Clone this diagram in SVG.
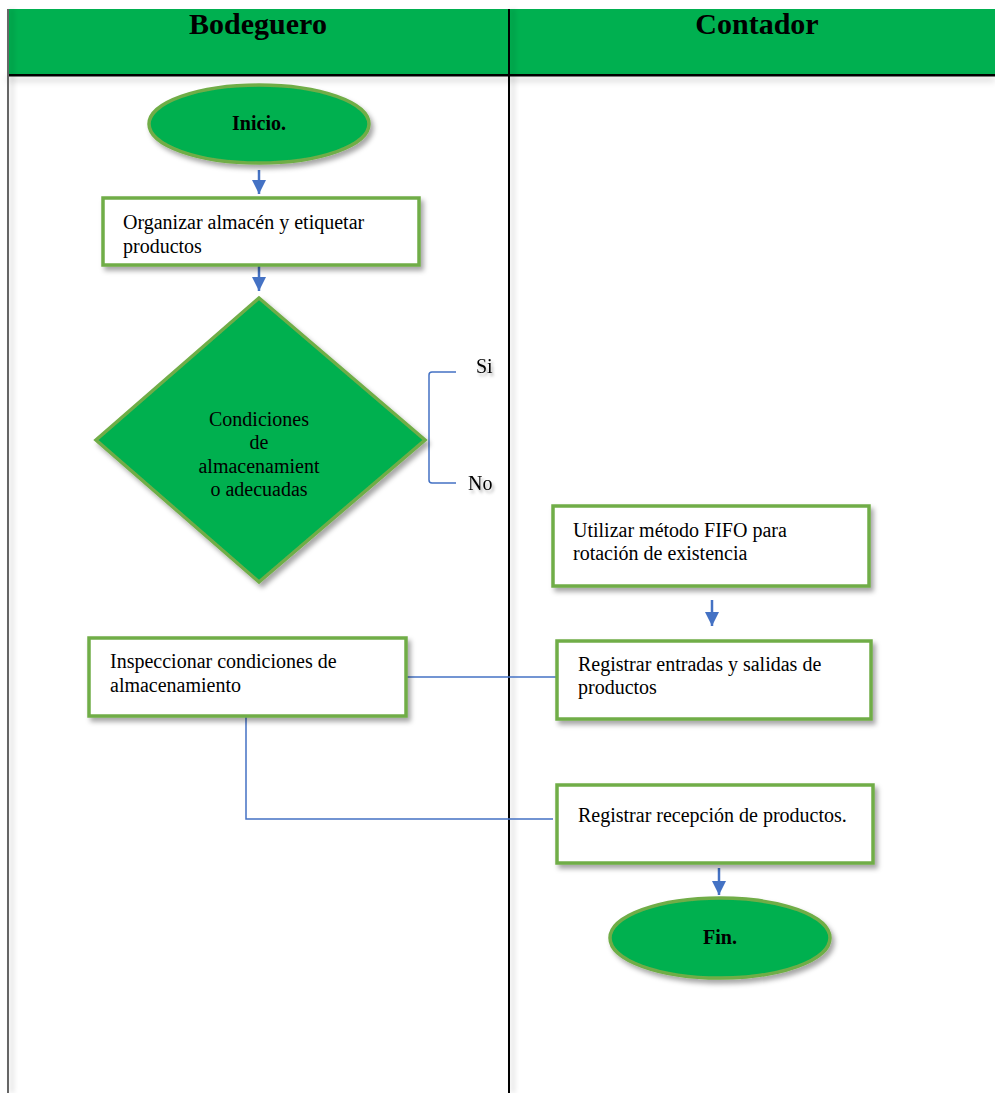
<svg xmlns="http://www.w3.org/2000/svg" width="995" height="1093" viewBox="0 0 995 1093">
  <defs>
    <filter id="shadow" x="-10%" y="-10%" width="125%" height="130%">
      <feDropShadow dx="3" dy="4" stdDeviation="2.5" flood-color="#000" flood-opacity="0.35"/>
    </filter>
    <filter id="lineShadow" filterUnits="userSpaceOnUse" x="0" y="0" width="995" height="1093">
      <feDropShadow dx="4" dy="0" stdDeviation="2.5" flood-color="#000" flood-opacity="0.2"/>
    </filter>
    <filter id="hdrShadow" filterUnits="userSpaceOnUse" x="0" y="60" width="995" height="40">
      <feDropShadow dx="0" dy="4" stdDeviation="3" flood-color="#000" flood-opacity="0.25"/>
    </filter>
    <filter id="textShadow" x="-30%" y="-30%" width="170%" height="170%">
      <feDropShadow dx="2" dy="3" stdDeviation="1.5" flood-color="#000" flood-opacity="0.3"/>
    </filter>
    <marker id="arrow" viewBox="0 0 14 14" refX="14" refY="7" markerWidth="14" markerHeight="14" markerUnits="userSpaceOnUse" orient="auto">
      <path d="M0,0 L14,7 L0,14 Z" fill="#4472C4"/>
    </marker>
  </defs>
  <style>
    .hdr { font-family: "Liberation Serif", "Times New Roman", serif; font-weight: bold; font-size: 30px; fill: #000; text-anchor: middle; }
    .box { fill: #fff; stroke: #70AD47; stroke-width: 3.5; }
    .term { fill: #00B050; stroke: #70AD47; stroke-width: 3.5; }
    .txt { font-family: "Liberation Serif", "Times New Roman", serif; font-size: 20px; fill: #000; }
    .bold { font-weight: bold; }
    .mid { text-anchor: middle; }
    .flow { fill: none; stroke: #4472C4; stroke-width: 2.5; }
    .link { fill: none; stroke: #4472C4; stroke-width: 1.5; }
  </style>

  <!-- swimlane frame -->
  <g id="lanes">
    <rect x="7" y="9" width="988" height="66" fill="#00B050"/>
    <rect x="7" y="74" width="988" height="2.5" fill="#000" filter="url(#hdrShadow)"/>
    <rect x="7" y="9" width="2" height="1084" fill="#666" filter="url(#lineShadow)"/>
    <rect x="508" y="9" width="2" height="1084" fill="#000" filter="url(#lineShadow)"/>
    <text x="258" y="34" class="hdr">Bodeguero</text>
    <text x="757" y="34" class="hdr">Contador</text>
  </g>

  <!-- connectors -->
  <g id="connectors">
    <line x1="259" y1="170" x2="259" y2="194" class="flow" marker-end="url(#arrow)"/>
    <line x1="259" y1="266" x2="259" y2="291" class="flow" marker-end="url(#arrow)"/>
    <line x1="712" y1="600" x2="712" y2="626" class="flow" marker-end="url(#arrow)"/>
    <line x1="719" y1="868" x2="719" y2="895" class="flow" marker-end="url(#arrow)"/>
    <line x1="406" y1="677" x2="557" y2="677" class="link"/>
    <polyline points="246,717 246,819 553,819" class="link"/>
    <path d="M456,372 L432,372 Q429,372 429,375 L429,480 Q429,483 432,483 L456,483" class="link"/>
  </g>

  <g id="inicio">
    <ellipse cx="259" cy="124" rx="110" ry="39" class="term" filter="url(#shadow)"/>
    <text x="259" y="130" class="txt bold mid">Inicio.</text>
  </g>

  <g id="organizar">
    <rect x="103" y="198" width="316" height="67" class="box" filter="url(#shadow)"/>
    <text x="123" y="229" class="txt">Organizar almacén y etiquetar</text>
    <text x="123" y="253" class="txt">productos</text>
  </g>

  <g id="decision">
    <polygon points="259,298 425,440 259,582 96,440" class="term" filter="url(#shadow)"/>
    <text x="259" y="426" class="txt mid">Condiciones</text>
    <text x="259" y="449" class="txt mid">de</text>
    <text x="259" y="473" class="txt mid">almacenamient</text>
    <text x="259" y="496" class="txt mid">o adecuadas</text>
  </g>

  <g id="label-si">
    <text x="476" y="373" class="txt" filter="url(#textShadow)">Si</text>
  </g>
  <g id="label-no">
    <text x="468" y="490" class="txt" filter="url(#textShadow)">No</text>
  </g>

  <g id="fifo">
    <rect x="553" y="506" width="316" height="80" class="box" filter="url(#shadow)"/>
    <text x="573" y="537" class="txt">Utilizar método FIFO para</text>
    <text x="573" y="560" class="txt">rotación de existencia</text>
  </g>

  <g id="inspeccionar">
    <rect x="89" y="638" width="317" height="78" class="box" filter="url(#shadow)"/>
    <text x="110" y="668" class="txt">Inspeccionar condiciones de</text>
    <text x="110" y="692" class="txt">almacenamiento</text>
  </g>

  <g id="registrar-entradas">
    <rect x="557" y="641" width="314" height="78" class="box" filter="url(#shadow)"/>
    <text x="578" y="671" class="txt">Registrar entradas y salidas de</text>
    <text x="578" y="694" class="txt">productos</text>
  </g>

  <g id="registrar-recepcion">
    <rect x="557" y="785" width="316" height="78" class="box" filter="url(#shadow)"/>
    <text x="578" y="822" class="txt">Registrar recepción de productos.</text>
  </g>

  <g id="fin">
    <ellipse cx="720" cy="938" rx="110" ry="40" class="term" filter="url(#shadow)"/>
    <text x="720" y="944" class="txt bold mid">Fin.</text>
  </g>
</svg>
